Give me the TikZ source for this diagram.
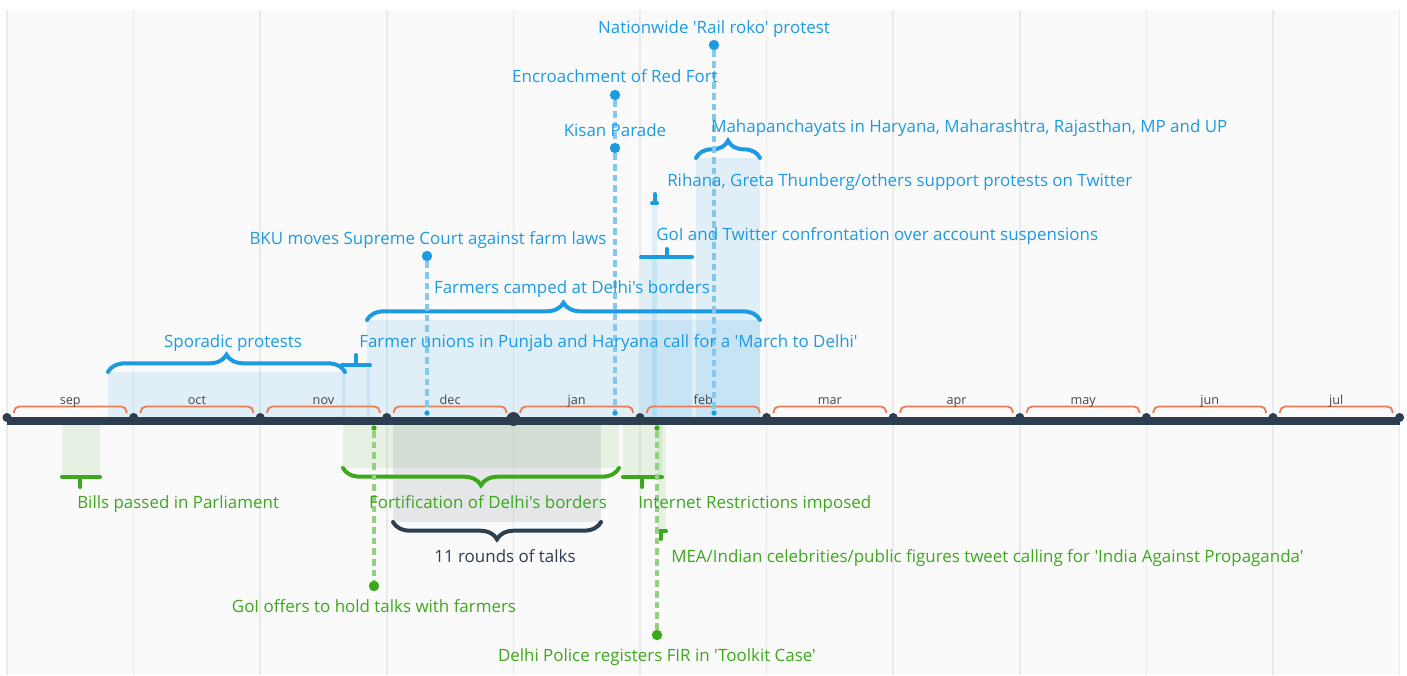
\documentclass[tikz,border=0pt]{standalone}
\usepackage{fontspec}
\setmainfont{Open Sans}[Ligatures=TeXOff]
\usetikzlibrary{decorations.pathreplacing}
\definecolor{evblue}{RGB}{29,155,226}
\definecolor{evgreen}{RGB}{60,168,28}
\definecolor{axisdark}{RGB}{44,62,80}
\definecolor{monthorange}{RGB}{238,125,85}
\definecolor{gridgray}{RGB}{234,234,234}
\definecolor{panelgray}{RGB}{250,250,250}
\definecolor{monthtext}{RGB}{70,70,70}

\begin{document}
\begin{tikzpicture}[x=0.75pt, y=-0.75pt,
    evfont/.style={font=\fontsize{12.7}{15}\selectfont, inner sep=0pt},
    bluelabel/.style={evfont, text=evblue},
    greenlabel/.style={evfont, text=evgreen},
    blueband/.style={fill=evblue, fill opacity=0.12},
    greenband/.style={fill=evgreen, fill opacity=0.1},
    talkband/.style={fill=axisdark, fill opacity=0.1},
    bluebrace/.style={draw=evblue, line width=3pt, line cap=round, decorate, decoration={brace, amplitude=13pt}},
    greenbrace/.style={draw=evgreen, line width=3pt, line cap=round, decorate, decoration={brace, mirror, amplitude=13pt}},
    talkbrace/.style={draw=axisdark, line width=3pt, line cap=round, decorate, decoration={brace, mirror, amplitude=13pt}},
    bluetee/.style={draw=evblue, line width=3pt, line cap=round},
    greentee/.style={draw=evgreen, line width=3pt, line cap=round},
    bluedash/.style={draw=evblue!55, line width=2.3pt, dash pattern=on 5pt off 3pt},
    greendash/.style={draw=evgreen!55, line width=2.3pt, dash pattern=on 5pt off 3pt},
    bigdot/.style={circle, inner sep=0pt, minimum size=7.8pt},
    smalldot/.style={circle, inner sep=0pt, minimum size=4pt},
]
    \useasboundingbox (0,0) rectangle (1407,675);
    % panel and month grid
    \fill[panelgray] (7,10) rectangle (1400,675);
    \foreach \i in {0,...,11}
        \draw[gridgray, line width=1.1pt] ({7+126.6*\i},10) -- ({7+126.6*\i},675);

    % periods above the axis
    \fill[blueband] (108,372) rectangle (345,417); % sporadic protests
    \fill[blueband] (342,365) rectangle (370,417); % march to delhi call
    \fill[blueband] (367,320) rectangle (760,417); % camped at borders
    \fill[blueband] (641,257) rectangle (692,417); % twitter confrontation
    \fill[blueband] (652,203) rectangle (657,417); % rihana
    \fill[blueband] (696,158) rectangle (760,417); % mahapanchayats

    % periods below the axis
    \fill[greenband] (62,425) rectangle (100,477); % bills
    \fill[greenband] (343,425) rectangle (619,468); % fortification
    \fill[talkband] (393,425) rectangle (601,522); % talks
    \fill[greenband] (623,425) rectangle (662,477); % internet
    \fill[greenband] (657,425) rectangle (666,531); % MEA

    % months
    \foreach \m [count=\i from 0] in {sep,oct,nov,dec,jan,feb,mar,apr,may,jun,jul}{
        \draw[monthorange, line width=1.4pt, rounded corners=4pt]
            ({7+126.6*\i+7},413) -- ({7+126.6*\i+7},406.5) -- ({7+126.6*(\i+1)-7},406.5) -- ({7+126.6*(\i+1)-7},413);
        \node[font=\fontsize{9.5}{10}\selectfont, text=monthtext, inner sep=0pt, anchor=base] (m\m) at ({7+126.6*\i+63.3},404) {\m};
    }

    % axis
    \draw[axisdark, line width=6pt] (7,421) -- (1400,421);
    \foreach \i in {0,...,11}
        \fill[axisdark] ({7+126.6*\i},417.5) circle[radius=3.4pt];
    \fill[axisdark] (513.4,419) circle[radius=5.2pt]; % new year

    % braces and ticks
    \draw[bluebrace] (108,372) -- (345,372);
    \draw[bluetee] (342,365) -- (370,365) (356,365) -- (356,355);
    \draw[bluebrace] (367,320) -- (760,320);
    \draw[bluetee] (641,257) -- (692,257) (667,257) -- (667,249);
    \draw[bluetee] (652,203) -- (657,203) (655,203) -- (655,194);
    \draw[bluebrace] (696,158) -- (760,158);
    \draw[greentee] (62,477) -- (100,477) (80,477) -- (80,487);
    \draw[greenbrace] (343,468) -- (619,468);
    \draw[talkbrace] (393,522) -- (601,522);
    \draw[greentee] (623,477) -- (662,477) (642,477) -- (642,487);
    \draw[greentee] (657,531) -- (666,531) (661,531) -- (661,539);

    % single day events
    \node[bigdot, fill=evblue] (bku) at (427,256) {};
    \node[smalldot, fill=evblue] (bku base) at (427,413) {};
    \node[bigdot, fill=evblue] (parade) at (615,148) {};
    \node[bigdot, fill=evblue] (redfort) at (615,95) {};
    \node[smalldot, fill=evblue] (jan26 base) at (615,413) {};
    \node[bigdot, fill=evblue] (railroko) at (714,45) {};
    \node[smalldot, fill=evblue] (railroko base) at (714,413) {};
    \node[bigdot, fill=evgreen] (offer) at (374,586) {};
    \node[smalldot, fill=evgreen] (offer base) at (374,428) {};
    \node[bigdot, fill=evgreen] (fir) at (657,635) {};
    \node[smalldot, fill=evgreen] (fir base) at (657,428) {};
    \draw[bluedash] (bku) -- (bku base);
    \draw[bluedash] (redfort) -- (parade);
    \draw[bluedash] (parade) -- (jan26 base);
    \draw[bluedash] (railroko) -- (railroko base);
    \draw[greendash] (offer base) -- (offer);
    \draw[greendash] (fir base) -- (fir);

    % labels
    \node[bluelabel, anchor=base] (l railroko) at (714,33) {Nationwide 'Rail roko' protest};
    \node[bluelabel, anchor=base] (l redfort) at (615,82) {Encroachment of Red Fort};
    \node[bluelabel, anchor=base] (l parade) at (615,136) {Kisan Parade};
    \node[bluelabel, anchor=base west] (l mahapanchayat) at (711,132) {Mahapanchayats in Haryana, Maharashtra, Rajasthan, MP and UP};
    \node[bluelabel, anchor=base west] (l rihana) at (667,186) {Rihana, Greta Thunberg/others support protests on Twitter};
    \node[bluelabel, anchor=base west] (l twitter) at (656,240) {GoI and Twitter confrontation over account suspensions};
    \node[bluelabel, anchor=base] (l bku) at (428,244) {BKU moves Supreme Court against farm laws};
    \node[bluelabel, anchor=base] (l camped) at (572,293) {Farmers camped at Delhi's borders};
    \node[bluelabel, anchor=base] (l sporadic) at (233,347) {Sporadic protests};
    \node[bluelabel, anchor=base west] (l march) at (359,347) {Farmer unions in Punjab and Haryana call for a 'March to Delhi'};
    \node[greenlabel, anchor=base west] (l bills) at (77,508) {Bills passed in Parliament};
    \node[greenlabel, anchor=base] (l fortify) at (488,508) {Fortification of Delhi's borders};
    \node[greenlabel, anchor=base west] (l internet) at (638,508) {Internet Restrictions imposed};
    \node[evfont, text=axisdark, anchor=base] (l talks) at (505,562) {11 rounds of talks};
    \node[greenlabel, anchor=base west] (l mea) at (671,562) {MEA/Indian celebrities/public figures tweet calling for 'India Against Propaganda'};
    \node[greenlabel, anchor=base] (l offer) at (374,612) {GoI offers to hold talks with farmers};
    \node[greenlabel, anchor=base] (l fir) at (657,661) {Delhi Police registers FIR in 'Toolkit Case'};
\end{tikzpicture}
\end{document}
